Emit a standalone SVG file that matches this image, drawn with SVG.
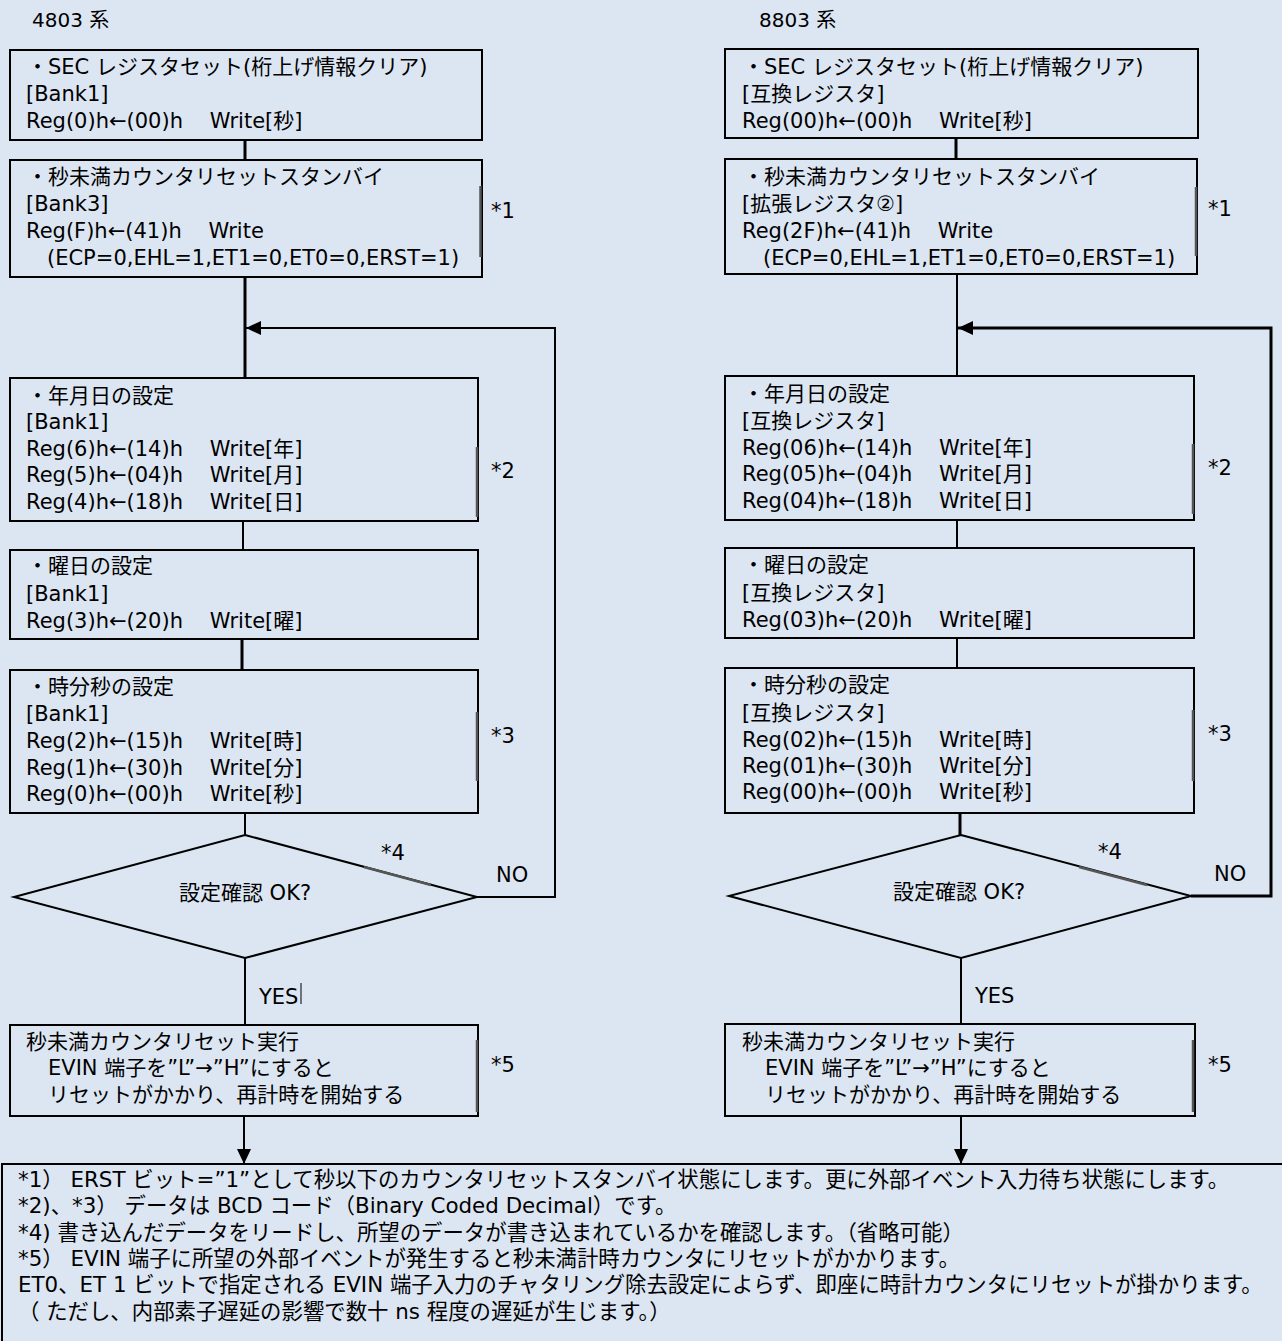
<svg xmlns="http://www.w3.org/2000/svg" width="1282" height="1341" viewBox="0 0 1282 1341" xml:space="preserve">
<style>
.bg{fill:#dce6f2}
.bx{fill:none;stroke:#000;stroke-width:2}
.br{fill:none;stroke:#555;stroke-width:2.5}
.ln{fill:none;stroke:#000;stroke-width:2}
.lk{fill:none;stroke:#000;stroke-width:3}
.t{font-family:"DejaVu Sans","Noto Sans CJK JP",sans-serif;font-size:21px;fill:#000;white-space:pre}
.h{font-size:20px}
.n{font-size:21.4px}
</style>
<defs>
<marker id="ah" markerUnits="userSpaceOnUse" viewBox="0 0 15 14" refX="15" refY="7" markerWidth="15" markerHeight="14" orient="auto">
<path d="M0,0 L15,7 L0,14 Z" fill="#000"/>
</marker>
</defs>
<rect class="bg" x="0" y="0" width="1282" height="1341"/>

<text class="t h" x="32" y="27">4803 系</text>
<text class="t h" x="759" y="27">8803 系</text>

<g id="connectors">
<path class="lk" d="M245 140 V160"/>
<path class="lk" d="M245 277 V378"/>
<path class="ln" d="M477 897 H555 V328 H246" marker-end="url(#ah)"/>
<path class="ln" d="M243 521 V550"/>
<path class="lk" d="M242 639 V670"/>
<path class="ln" d="M245 813 V835"/>
<path class="ln" d="M245 958 V1025"/>
<path class="ln" d="M244 1116 V1164" marker-end="url(#ah)"/>
<path class="lk" d="M956 138 V159"/>
<path class="ln" d="M957 274 V376"/>
<path class="lk" d="M1191 896 H1271 V328 H958" marker-end="url(#ah)"/>
<path class="ln" d="M957 520 V548"/>
<path class="ln" d="M957 638 V668"/>
<path class="lk" d="M960 813 V835"/>
<path class="ln" d="M961 958 V1024"/>
<path class="ln" d="M961 1116 V1164" marker-end="url(#ah)"/>
<text class="t" x="496" y="882">NO</text>
<text class="t" x="259" y="1004">YES</text>
<line x1="301" y1="983" x2="301" y2="1004" stroke="#000" stroke-width="1"/>
<text class="t" x="1214" y="881">NO</text>
<text class="t" x="975" y="1003">YES</text>
</g>

<!-- left column -->
<g id="L1">
<rect class="bx" x="10" y="50" width="472" height="90"/>
<text class="t" x="27" y="74">・SEC レジスタセット(桁上げ情報クリア)</text>
<text class="t" x="26" y="101">[Bank1]</text>
<text class="t" x="26" y="128">Reg(0)h←(00)h    Write[秒]</text>
</g>
<g id="L2">
<rect class="bx" x="10" y="160" width="472" height="117"/>
<line class="br" x1="480.5" y1="186" x2="480.5" y2="257"/>
<text class="t" x="27" y="184">・秒未満カウンタリセットスタンバイ</text>
<text class="t" x="26" y="211">[Bank3]</text>
<text class="t" x="26" y="238">Reg(F)h←(41)h    Write</text>
<text class="t" x="47" y="265">(ECP=0,EHL=1,ET1=0,ET0=0,ERST=1)</text>
<text class="t" x="491" y="218">*1</text>
</g>
<g id="L3">
<rect class="bx" x="10" y="378" width="468" height="143"/>
<line class="br" x1="477" y1="447" x2="477" y2="517"/>
<text class="t" x="27" y="403">・年月日の設定</text>
<text class="t" x="26" y="429">[Bank1]</text>
<text class="t" x="26" y="456">Reg(6)h←(14)h    Write[年]</text>
<text class="t" x="26" y="482">Reg(5)h←(04)h    Write[月]</text>
<text class="t" x="26" y="509">Reg(4)h←(18)h    Write[日]</text>
<text class="t" x="491" y="478">*2</text>
</g>
<g id="L4">
<rect class="bx" x="10" y="550" width="468" height="89"/>
<text class="t" x="27" y="573">・曜日の設定</text>
<text class="t" x="26" y="601">[Bank1]</text>
<text class="t" x="26" y="628">Reg(3)h←(20)h    Write[曜]</text>
</g>
<g id="L5">
<rect class="bx" x="10" y="670" width="468" height="143"/>
<line class="br" x1="477" y1="712" x2="477" y2="781"/>
<text class="t" x="27" y="694">・時分秒の設定</text>
<text class="t" x="26" y="721">[Bank1]</text>
<text class="t" x="26" y="748">Reg(2)h←(15)h    Write[時]</text>
<text class="t" x="26" y="775">Reg(1)h←(30)h    Write[分]</text>
<text class="t" x="26" y="801">Reg(0)h←(00)h    Write[秒]</text>
<text class="t" x="491" y="743">*3</text>
</g>
<g id="L6">
<polygon class="bx" points="245,835 477,897 245,958 14,897"/>
<line x1="364" y1="867" x2="431" y2="885" stroke="#555" stroke-width="2.5"/>
<text class="t" x="245" y="900" text-anchor="middle">設定確認 OK?</text>
<text class="t" x="381" y="860">*4</text>
</g>
<g id="L7">
<rect class="bx" x="10" y="1025" width="468" height="91"/>
<line class="br" x1="477" y1="1040" x2="477" y2="1112"/>
<text class="t" x="26" y="1049">秒未満カウンタリセット実行</text>
<text class="t" x="48" y="1075">EVIN 端子を”L”→”H”にすると</text>
<text class="t" x="48" y="1102">リセットがかかり、再計時を開始する</text>
<text class="t" x="491" y="1072">*5</text>
</g>

<!-- right column -->
<g id="R1">
<rect class="bx" x="725" y="49" width="473" height="89"/>
<text class="t" x="743" y="74">・SEC レジスタセット(桁上げ情報クリア)</text>
<text class="t" x="742" y="101">[互換レジスタ]</text>
<text class="t" x="742" y="128">Reg(00)h←(00)h    Write[秒]</text>
</g>
<g id="R2">
<rect class="bx" x="725" y="159" width="472" height="115"/>
<line class="br" x1="1196" y1="187" x2="1196" y2="256"/>
<text class="t" x="743" y="184">・秒未満カウンタリセットスタンバイ</text>
<text class="t" x="742" y="211">[拡張レジスタ②]</text>
<text class="t" x="742" y="238">Reg(2F)h←(41)h    Write</text>
<text class="t" x="763" y="265">(ECP=0,EHL=1,ET1=0,ET0=0,ERST=1)</text>
<text class="t" x="1208" y="216">*1</text>
</g>
<g id="R3">
<rect class="bx" x="725" y="376" width="469" height="144"/>
<line class="br" x1="1193" y1="444" x2="1193" y2="514"/>
<text class="t" x="743" y="401">・年月日の設定</text>
<text class="t" x="742" y="428">[互換レジスタ]</text>
<text class="t" x="742" y="455">Reg(06)h←(14)h    Write[年]</text>
<text class="t" x="742" y="481">Reg(05)h←(04)h    Write[月]</text>
<text class="t" x="742" y="508">Reg(04)h←(18)h    Write[日]</text>
<text class="t" x="1208" y="475">*2</text>
</g>
<g id="R4">
<rect class="bx" x="725" y="548" width="469" height="90"/>
<text class="t" x="743" y="572">・曜日の設定</text>
<text class="t" x="742" y="600">[互換レジスタ]</text>
<text class="t" x="742" y="627">Reg(03)h←(20)h    Write[曜]</text>
</g>
<g id="R5">
<rect class="bx" x="725" y="668" width="469" height="145"/>
<line class="br" x1="1193" y1="710" x2="1193" y2="781"/>
<text class="t" x="743" y="692">・時分秒の設定</text>
<text class="t" x="742" y="720">[互換レジスタ]</text>
<text class="t" x="742" y="747">Reg(02)h←(15)h    Write[時]</text>
<text class="t" x="742" y="773">Reg(01)h←(30)h    Write[分]</text>
<text class="t" x="742" y="799">Reg(00)h←(00)h    Write[秒]</text>
<text class="t" x="1208" y="741">*3</text>
</g>
<g id="R6">
<polygon class="bx" points="961,835 1191,896 961,958 729,896"/>
<line x1="1079" y1="867" x2="1147" y2="885" stroke="#555" stroke-width="2.5"/>
<text class="t" x="959" y="899" text-anchor="middle">設定確認 OK?</text>
<text class="t" x="1098" y="859">*4</text>
</g>
<g id="R7">
<rect class="bx" x="725" y="1024" width="470" height="92"/>
<line class="br" x1="1193" y1="1040" x2="1193" y2="1112"/>
<text class="t" x="742" y="1049">秒未満カウンタリセット実行</text>
<text class="t" x="765" y="1075">EVIN 端子を”L”→”H”にすると</text>
<text class="t" x="765" y="1102">リセットがかかり、再計時を開始する</text>
<text class="t" x="1208" y="1072">*5</text>
</g>

<g id="notes">
<rect class="bx" x="2" y="1164" width="1300" height="200"/>
<text class="t n" x="18" y="1187">*1） ERST ビット=”1”として秒以下のカウンタリセットスタンバイ状態にします。更に外部イベント入力待ち状態にします。</text>
<text class="t n" x="18" y="1213">*2)、*3） データは BCD コード（Binary Coded Decimal）です。</text>
<text class="t n" x="18" y="1240">*4) 書き込んだデータをリードし、所望のデータが書き込まれているかを確認します。（省略可能）</text>
<text class="t n" x="18" y="1266">*5） EVIN 端子に所望の外部イベントが発生すると秒未満計時カウンタにリセットがかかります。</text>
<text class="t n" x="18" y="1292">ET0、ET 1 ビットで指定される EVIN 端子入力のチャタリング除去設定によらず、即座に時計カウンタにリセットが掛かります。</text>
<text class="t n" x="18" y="1319">（ ただし、内部素子遅延の影響で数十 ns 程度の遅延が生じます。）</text>
</g>
</svg>
